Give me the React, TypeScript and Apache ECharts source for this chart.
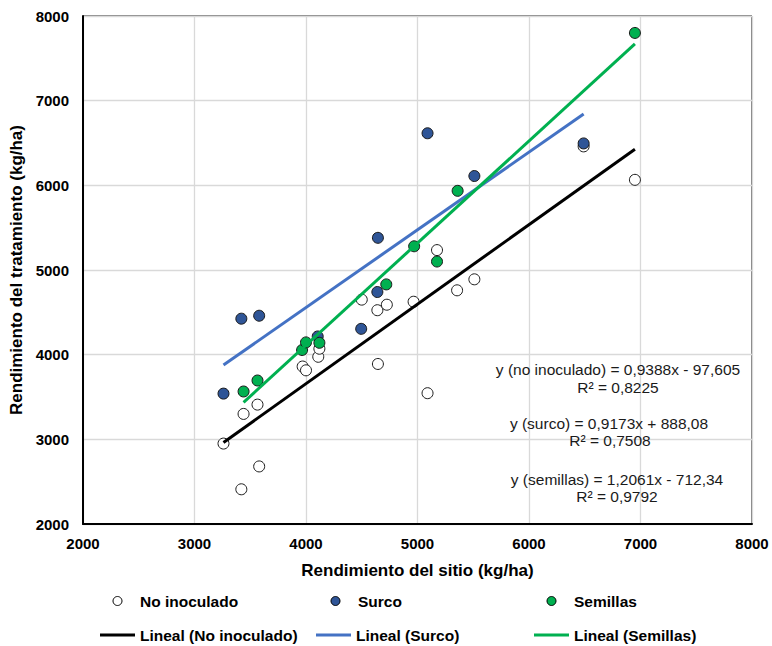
import React, { useEffect, useRef } from "react";
import * as echarts from "echarts";

// ---- Data ----
const noInoculado: [number, number][] = [
  [3260, 2950], [3420, 2410], [3580, 2680], [3440, 3300], [3565, 3410],
  [3970, 3860], [4000, 3815], [4110, 3975], [4120, 4070], [4645, 3890],
  [4500, 4650], [4640, 4525], [4725, 4590], [4965, 4625], [5175, 5235],
  [5355, 4760], [5510, 4890], [5090, 3545], [6490, 6460], [6950, 6065],
];
const surco: [number, number][] = [
  [3260, 3540], [3420, 4425], [3580, 4460], [4105, 4215], [4495, 4305],
  [4640, 4740], [4645, 5380], [5090, 6615], [5510, 6110], [6490, 6495],
];
const semillas: [number, number][] = [
  [3440, 3565], [3565, 3695], [3965, 4055], [4000, 4145], [4120, 4140],
  [4720, 4830], [4970, 5280], [5175, 5100], [5360, 5935], [6950, 7800],
];

const seriesNames = ["No inoculado", "Surco", "Semillas"];
const trendNames = ["Lineal (No inoculado)", "Lineal (Surco)", "Lineal (Semillas)"];
const trendSlopes = [0.9388, 0.9173, 1.2061];
const trendIntercepts = [-97.605, 888.08, -712.34];
const equationTexts = [
  "y (no inoculado) = 0,9388x - 97,605",
  "R² = 0,8225",
  "y (surco) = 0,9173x + 888,08",
  "R² = 0,7508",
  "y (semillas) = 1,2061x - 712,34",
  "R² = 0,9792",
];
const axisMin = 2000;
const axisMax = 8000;
const axisStep = 1000;

const FONT = "'Liberation Sans', Arial, sans-serif";
const groups = [noInoculado, surco, semillas];
const markerColors = ["#ffffff", "#2F5597", "#00B050"];
const lineColors = ["#000000", "#4472C4", "#00B050"];

function trendLine(i: number): [number, number][] {
  const xs = groups[i].map((p) => p[0]);
  const x1 = Math.min(...xs);
  const x2 = Math.max(...xs);
  return [
    [x1, trendSlopes[i] * x1 + trendIntercepts[i]],
    [x2, trendSlopes[i] * x2 + trendIntercepts[i]],
  ];
}

export default function App() {
  const ref = useRef<HTMLDivElement>(null);
  useEffect(() => {
    if (!ref.current) return;
    const chart = echarts.init(ref.current, undefined, { renderer: "svg" });

    const axisCommon = {
      type: "value",
      min: axisMin,
      max: axisMax,
      interval: axisStep,
      axisTick: { show: false },
      axisLine: { show: true, onZero: false, lineStyle: { color: "#000", width: 2 } },
      splitLine: { show: true, lineStyle: { color: "#d9d9d9", width: 1.3 } },
      axisLabel: {
        color: "#000",
        fontWeight: "bold",
        fontSize: 15,
        fontFamily: FONT,
        formatter: (v: number) => String(v),
      },
      nameTextStyle: { color: "#000", fontWeight: "bold", fontSize: 17, fontFamily: FONT },
    };

    const scatterSeries = groups.map((g, i) => ({
      name: seriesNames[i],
      type: "scatter",
      data: g,
      symbol: "circle",
      symbolSize: 11,
      itemStyle: { color: markerColors[i], borderColor: "#1a1a1a", borderWidth: 1, opacity: 1 },
      z: 3 + i,
    }));
    const lineSeries = groups.map((_, i) => ({
      name: trendNames[i],
      type: "line",
      data: trendLine(i),
      symbol: "none",
      showSymbol: false,
      lineStyle: { color: lineColors[i], width: 3 },
      itemStyle: { color: lineColors[i] },
      z: 10,
    }));

    const legendText = { fontSize: 15.5, fontWeight: "bold", color: "#000", fontFamily: FONT };
    const scatterCenters = [117, 335, 551];
    const lineLeft = [100, 316, 534];
    const legends: any[] = [];
    seriesNames.forEach((n, i) => {
      legends.push({
        data: [n],
        left: scatterCenters[i] - 4.5,
        top: 593,
        padding: 0,
        icon: "circle",
        itemWidth: 9,
        itemHeight: 9,
        itemStyle: { borderColor: "#000", borderWidth: 1 },
        textStyle: { ...legendText, padding: [0, 0, 0, 13] },
        selectedMode: false,
      });
    });
    trendNames.forEach((n, i) => {
      legends.push({
        data: [n],
        left: lineLeft[i],
        top: 627,
        padding: 0,
        icon: "rect",
        itemWidth: 35,
        itemHeight: 3,
        textStyle: legendText,
        selectedMode: false,
      });
    });

    const eqPos = [
      [618, 369], [618, 387], [609, 423], [610, 440], [617, 479], [617, 496],
    ];
    const graphics = equationTexts.map((t, i) => ({
      type: "text",
      x: eqPos[i][0],
      y: eqPos[i][1],
      z: 20,
      style: {
        text: t,
        fill: "#1a1a1a",
        font: `15.5px ${FONT}`,
        align: "center",
        verticalAlign: "middle",
      },
    }));

    chart.setOption({
      animation: false,
      backgroundColor: "#fff",
      grid: {
        left: 83,
        right: 20,
        top: 16,
        bottom: 122,
        show: true,
        borderColor: "#000",
        borderWidth: 1,
        containLabel: false,
        outerBoundsMode: "none",
      },
      xAxis: {
        ...axisCommon,
        name: "Rendimiento del sitio (kg/ha)",
        nameLocation: "middle",
        nameGap: 38,
        axisLabel: { ...axisCommon.axisLabel, margin: 12 },
      },
      yAxis: {
        ...axisCommon,
        name: "Rendimiento del tratamiento (kg/ha)",
        nameLocation: "middle",
        nameGap: 43,
        axisLabel: { ...axisCommon.axisLabel, margin: 14 },
      },
      legend: legends,
      series: [...scatterSeries, ...lineSeries],
      graphic: graphics,
    });

    return () => chart.dispose();
  }, []);

  return (
    <div
      ref={ref}
      style={{ position: "fixed", left: 0, top: 0, width: 772, height: 646, background: "#fff" }}
    />
  );
}
